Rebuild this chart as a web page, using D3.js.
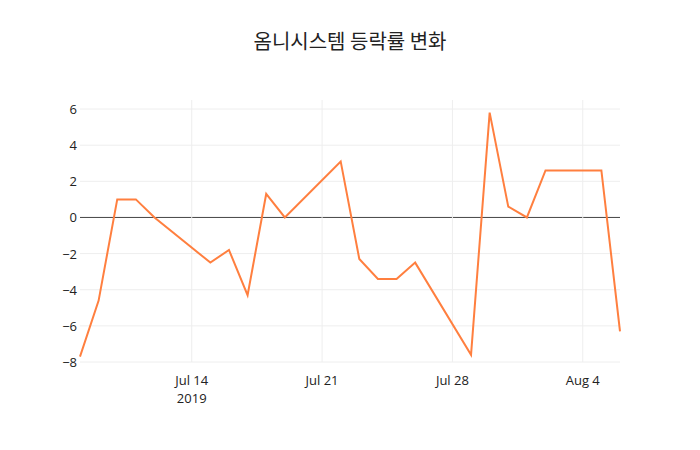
<!DOCTYPE html>
<html><head><meta charset="utf-8">
<script src="https://cdn.jsdelivr.net/npm/d3@7"></script>
<style>body{margin:0;background:#fff}</style></head>
<body><svg id="c" width="700" height="450"></svg>
<script>
const dates = ["2019-07-08","2019-07-09","2019-07-10","2019-07-11","2019-07-12","2019-07-15","2019-07-16","2019-07-17","2019-07-18","2019-07-19","2019-07-22","2019-07-23","2019-07-24","2019-07-25","2019-07-26","2019-07-29","2019-07-30","2019-07-31","2019-08-01","2019-08-02","2019-08-05","2019-08-06"];
const values = [-7.7,-4.6,1.0,1.0,0.0,-2.5,-1.8,-4.3,1.3,0.0,3.1,-2.3,-3.4,-3.4,-2.5,-7.6,5.8,0.6,0.0,2.6,2.6,-6.3];
const yTicks = [-8,-6,-4,-2,0,2,4,6];
const xTicks = ["2019-07-14","2019-07-21","2019-07-28","2019-08-04"];
const xTickLabels = ["Jul 14","Jul 21","Jul 28","Aug 4"];
const title = "옴니시스템 등락률 변화";

const p = d3.timeParse("%Y-%m-%d");
const svg = d3.select("#c");
const L=80,R=620,T=100,B=362;
const x = d3.scaleTime().domain([p(dates[0]),p(dates[dates.length-1])]).range([L,R]);
const y = d3.scaleLinear().domain([-8,6.5]).range([B,T]);
const font = "'Open Sans', sans-serif";

svg.append("g").selectAll("line").data(yTicks).join("line")
  .attr("x1",L).attr("x2",R).attr("y1",d=>y(d)).attr("y2",d=>y(d))
  .attr("stroke",d=>d===0?"#444":"#eee").attr("stroke-width",1);
svg.append("g").selectAll("line").data(xTicks).join("line")
  .attr("x1",d=>x(p(d))).attr("x2",d=>x(p(d))).attr("y1",T).attr("y2",B)
  .attr("stroke","#eee");
svg.append("g").selectAll("text").data(yTicks).join("text")
  .attr("x",L-3).attr("y",d=>y(d)+5).attr("text-anchor","end")
  .attr("font-family",font).attr("font-size",13).attr("fill","#222")
  .text(d=>d<0?"−"+Math.abs(d):d);
svg.append("g").selectAll("text").data(xTicks).join("text")
  .attr("x",d=>x(p(d))).attr("y",385).attr("text-anchor","middle")
  .attr("font-family",font).attr("font-size",13).attr("fill","#222")
  .text((d,i)=>xTickLabels[i]);
svg.append("text").attr("x",x(p(xTicks[0]))).attr("y",403).attr("text-anchor","middle")
  .attr("font-family",font).attr("font-size",13).attr("fill","#222").text("2019");
svg.append("path").datum(dates.map((d,i)=>[p(d),values[i]]))
  .attr("fill","none").attr("stroke","#ff7f3f").attr("stroke-width",2)
  .attr("d",d3.line().x(d=>x(d[0])).y(d=>y(d[1])));
svg.append("text").attr("x",350).attr("y",49).attr("text-anchor","middle")
  .attr("font-family","'Noto Sans CJK KR', sans-serif").attr("font-size",20).attr("fill","#222").text(title);
</script></body></html>
